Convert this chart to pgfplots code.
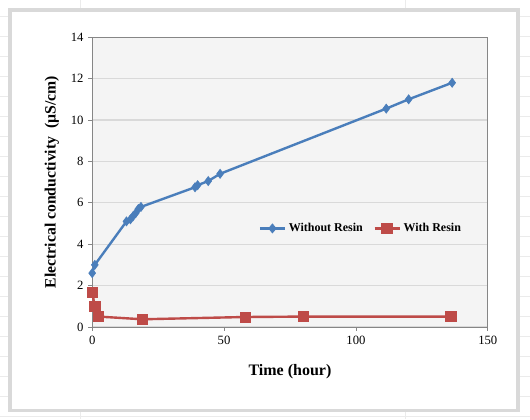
\documentclass[border=0pt]{standalone}
\usepackage{pgfplots}
\pgfplotsset{compat=1.18}
\usepackage{fontspec}
\setmainfont{Liberation Serif}
\definecolor{blueS}{HTML}{4A7EBB}
\definecolor{redS}{HTML}{BE4B48}
\definecolor{gridc}{HTML}{D9D9D9}
\definecolor{axc}{HTML}{868686}
\definecolor{plotbg}{HTML}{F4F4F4}
\definecolor{frame}{HTML}{D9D9D9}
\definecolor{sheet}{HTML}{EBEBEB}
\begin{document}
\begin{tikzpicture}[x=0.75pt,y=0.75pt]
% page
\fill[white] (0,0) rectangle (530,419);
% faint spreadsheet lines
\foreach \yy in {3,23,43,...,419} {\draw[sheet,line width=0.4pt] (0,\yy) -- (530,\yy);}
\draw[sheet,line width=0.4pt] (80,0) -- (80,419);
\draw[sheet,line width=0.4pt] (405,0) -- (405,419);
% chart frame
\fill[frame] (8,7) rectangle (520,411);
\fill[white] (12,10) rectangle (516.5,407);
\begin{axis}[
  at={(69pt,69pt)}, anchor=south west,
  scale only axis, width=297pt, height=217.5pt,
  xmin=0, xmax=150, ymin=0, ymax=14,
  xtick={0,50,100,150}, ytick={0,2,...,14},
  tick align=outside, tick pos=left,
  major tick length=3pt,
  every tick/.style={axc, line width=0.6pt},
  axis line style={axc, line width=0.6pt},
  axis background/.style={fill=plotbg},
  ymajorgrids, grid style={gridc, line width=0.8pt},
  /pgf/number format/assume math mode=true,
  tick label style={font=\fontsize{9.5}{11}\selectfont, black},
  xlabel={\textbf{Time (hour)}},
  ylabel={\textbf{Electrical conductivity\ \ (µS/cm)}},
  xlabel style={font=\fontsize{12}{14}\selectfont, yshift=-8pt},
  ylabel style={font=\fontsize{11.8}{13}\selectfont, yshift=2pt},
  legend style={at={(0.68,0.34)}, anchor=center, draw=none, fill=none,
    font=\bfseries\fontsize{9}{11}\selectfont, legend columns=2,
    /tikz/every even column/.append style={column sep=6pt}},
  legend image post style={xscale=1.1},
  legend cell align=left,
  clip=false,
]
\addplot[blueS, line width=1.8pt, mark=diamond*, mark size=3.4pt,
  mark options={fill=blueS, draw=blueS, line width=0.5pt}]
  coordinates {(0,2.6) (1,3.0) (13,5.1) (14.5,5.2) (15.5,5.35) (16.5,5.5) (17.5,5.7) (18.5,5.8)
  (39,6.75) (40,6.85) (44,7.05) (48.5,7.4) (111.5,10.55) (120,11.0) (136.5,11.8)};
\addlegendentry{Without Resin}
\addplot[redS, line width=1.8pt, mark=square*, mark size=3.8pt,
  mark options={fill=redS, draw=redS, line width=0.5pt}]
  coordinates {(0,1.68) (1,0.98) (2.5,0.5) (19,0.37) (58,0.48) (80,0.5) (136,0.5)};
\addlegendentry{With Resin}
\end{axis}
\end{tikzpicture}
\end{document}
